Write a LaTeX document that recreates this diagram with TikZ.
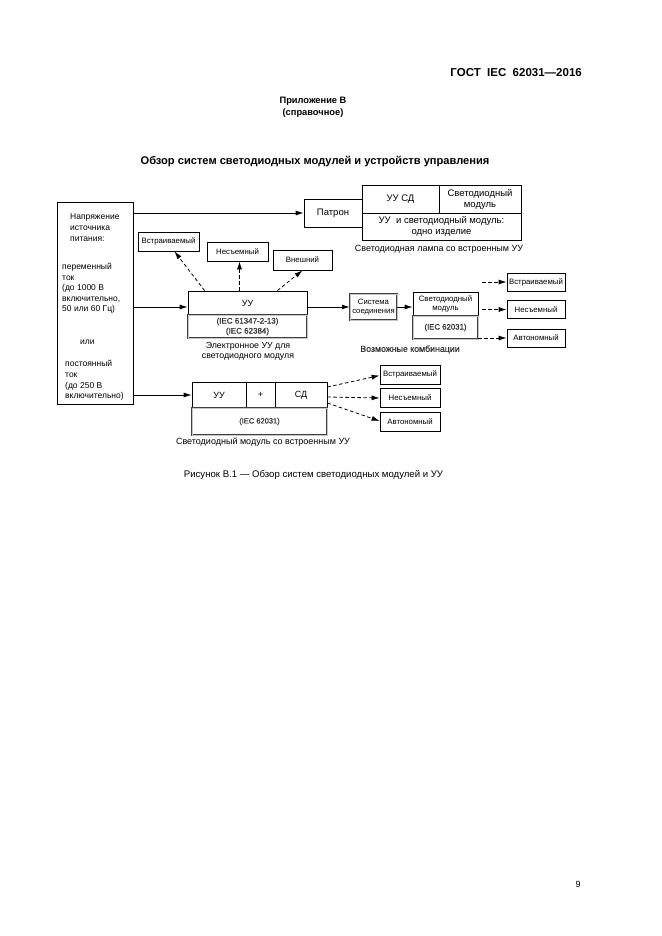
\documentclass[tikz,border=0pt]{standalone}
\usepackage{fontspec}
\setmainfont{Liberation Sans}
\usetikzlibrary{arrows.meta,calc}
\newfontfamily\ghostfont[FakeBold=0.6]{Liberation Sans}
\begin{document}
\begin{tikzpicture}[x=1pt,y=-1pt,
  bx/.style={draw, line width=0.8pt, inner sep=0pt, align=center, font=\fontsize{9}{11}\selectfont},
  sbx/.style={bx, font=\fontsize{7.8}{9}\selectfont, minimum width=59pt, minimum height=19pt},
  gbx/.style={bx, draw=black!75, double=gray!45, double distance=0.7pt, line width=0.5pt},
  lbl/.style={inner sep=0pt, align=center, font=\fontsize{8.8}{10.5}\selectfont},
  arr/.style={line width=0.8pt, -{Latex[length=8pt,width=5pt]}},
  darr/.style={arr, dash pattern=on 3.5pt off 2.5pt}]
\useasboundingbox (0,0) rectangle (661,936);

% page texts
\node[inner sep=0pt, anchor=east, font=\bfseries\fontsize{11.5}{13}\selectfont] (hdr) at (582,73) {ГОСТ\ \ IEC\ \ 62031—2016};
\node[lbl, font=\bfseries\fontsize{9.3}{12}\selectfont] (app) at (313,107) {Приложение В\\(справочное)};
\node[lbl, font=\bfseries\fontsize{11.1}{13}\selectfont] (title) at (315,162) {Обзор систем светодиодных модулей и устройств управления};
\node[lbl, font=\fontsize{9.6}{10}\selectfont] (fig) at (313.5,475) {Рисунок В.1 — Обзор систем светодиодных модулей и УУ};
\node[lbl, font=\fontsize{9}{10}\selectfont] (pg) at (578,884) {9};

% source box
\node[bx, minimum width=76pt, minimum height=202pt] (src) at (95,303) {};
\node[lbl, anchor=west, align=left, font=\fontsize{8.5}{11}\selectfont] (s1) at (70,228) {Напряжение\\источника\\питания:};
\node[lbl, anchor=west, align=left, font=\fontsize{8.5}{10.5}\selectfont] (s2) at (62,288.5) {переменный\\ток\\(до 1000 В\\включительно,\\50 или 60 Гц)};
\node[lbl, anchor=west, font=\fontsize{8.5}{10.5}\selectfont] (s3) at (80,342) {или};
\node[lbl, anchor=west, align=left, font=\fontsize{8.5}{10.7}\selectfont] (s4) at (65,380.5) {постоянный\\ток\\(до 250 В\\включительно)};

% lamp
\node[bx, minimum width=58pt, minimum height=28pt, font=\fontsize{9.5}{11}\selectfont] (patron) at (333,213) {Патрон};
\node[bx, minimum width=77pt, minimum height=28pt, font=\fontsize{9.5}{11}\selectfont] (lampA) at (400.5,199) {УУ СД};
\node[bx, minimum width=82pt, minimum height=28pt, font=\fontsize{9.5}{11}\selectfont] (lampB) at (480,199) {Светодиодный\\модуль};
\node[bx, minimum width=159pt, minimum height=27pt, font=\fontsize{9.5}{11.5}\selectfont] (lampC) at (441.5,226.5) {УУ\ \ и светодиодный модуль:\\одно изделие};
\node[lbl, font=\fontsize{9}{10}\selectfont] (lampcap) at (439,249) {Светодиодная лампа со встроенным УУ};

% electronic control gear
\node[sbx, minimum width=61pt] (emb1) at (168.5,241.5) {Встраиваемый};
\node[sbx, minimum width=61pt] (nes1) at (237.5,251.5) {Несъемный};
\node[sbx, minimum width=59pt, minimum height=20pt] (ext1) at (302.5,260) {Внешний};
\node[bx, minimum width=119pt, minimum height=24pt] (uu) at (247.5,303) {УУ};
\node[gbx, minimum width=119pt, minimum height=23pt, font=\fontsize{8}{10}\selectfont] (uuB) at (247.5,326.5) {\ghostfont\color{black!80}(IEC 61347-2-13)\\\ghostfont\color{black!80}(IEC 62384)};
\node[lbl] (uucap) at (248,351.5) {Электронное УУ для\\светодиодного модуля};

% combinations
\node[gbx, minimum width=47pt, minimum height=26pt, font=\fontsize{7.7}{9}\selectfont] (sys) at (373.5,307) {Система\\соединения};
\node[bx, minimum width=65pt, minimum height=24pt, font=\fontsize{7.8}{9}\selectfont] (led) at (445.5,304) {Светодиодный\\модуль};
\node[gbx, minimum width=65pt, minimum height=23pt, font=\fontsize{7.8}{9}\selectfont] (ledB) at (445.5,327.5) {\ghostfont\color{black!80}(IEC 62031)};
\node[lbl, font=\ghostfont\fontsize{8.8}{10}\selectfont, text=black!80] (comb) at (410,349.5) {Возможные комбинации};
\node[sbx, minimum width=58pt, minimum height=18pt] (emb2) at (536,282) {Встраиваемый};
\node[sbx, minimum width=58pt, minimum height=18pt] (nes2) at (536,309.5) {Несъемный};
\node[sbx, minimum width=58pt, minimum height=18pt] (aut2) at (536,338) {Автономный};

% LED module with integral control gear
\node[bx, minimum width=54pt, minimum height=26pt] (cu1) at (219,395) {УУ};
\node[bx, minimum width=29pt, minimum height=26pt] (cplus) at (260.5,395) {+};
\node[bx, minimum width=52pt, minimum height=26pt] (csd) at (301,395) {СД};
\node[gbx, minimum width=135pt, minimum height=27pt, font=\fontsize{7.5}{9}\selectfont] (cB) at (259.5,421.5) {\ghostfont\color{black!80}(IEC 62031)};
\node[lbl, font=\fontsize{9}{10}\selectfont] (ccap) at (263,442) {Светодиодный модуль со встроенным УУ};
\node[sbx, minimum width=60pt] (emb3) at (410,374.5) {Встраиваемый};
\node[sbx, minimum width=60pt] (nes3) at (410,398) {Несъемный};
\node[sbx, minimum width=60pt] (aut3) at (410,422) {Автономный};

% connectors
\draw[arr] (src.east |- patron.west) -- (patron.west);
\draw[arr] (src.east |- sys.west) -- (uu.west |- sys.west);
\draw[arr] (src.east |- cu1.west) -- (cu1.west);
\draw[darr] ($(uu.north west)+(17,0)$) -- ([xshift=6pt]emb1.south);
\draw[darr] ([xshift=2pt]nes1.south |- uu.north) -- ([xshift=2pt]nes1.south);
\draw[darr] ($(uu.north east)+(-30,0)$) -- (ext1.south);
\draw[arr] (uu.east |- sys.west) -- (sys.west);
\draw[arr] (sys.east) -- (led.west |- sys.east);
\draw[darr] ([xshift=4pt]led.east |- emb2.west) -- (emb2.west);
\draw[darr] ([xshift=4pt]led.east |- nes2.west) -- (nes2.west);
\draw[darr] (ledB.east |- aut2.west) -- (aut2.west);
\draw[darr] ([yshift=8pt]csd.east) -- ([yshift=-1pt]emb3.west);
\draw[darr] ([yshift=-2pt]csd.east) -- (nes3.west);
\draw[darr] ([yshift=-8pt]csd.east) -- ([yshift=1pt]aut3.west);
\end{tikzpicture}
\end{document}
